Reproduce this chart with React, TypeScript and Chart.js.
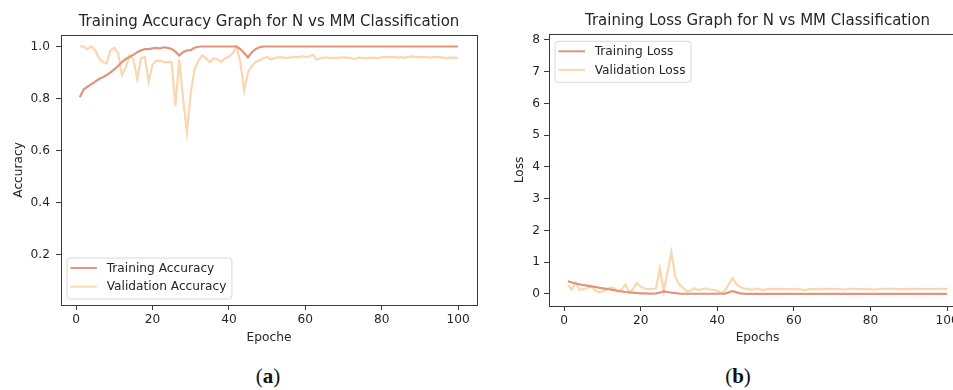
import React, { useEffect, useRef } from 'react';
import { Chart, registerables } from 'chart.js';
Chart.register(...registerables);

// ---------- data ----------
const epochs: number[] = [
  1, 2, 3, 4, 5, 6, 7, 8, 9, 10, 11, 12, 13, 14, 15, 16, 17, 18, 19, 20,
  21, 22, 23, 24, 25, 26, 27, 28, 29, 30, 31, 32, 33, 34, 35, 36, 37, 38, 39, 40,
  41, 42, 43, 44, 45, 46, 47, 48, 49, 50, 51, 52, 53, 54, 55, 56, 57, 58, 59, 60,
  61, 62, 63, 64, 65, 66, 67, 68, 69, 70, 71, 72, 73, 74, 75, 76, 77, 78, 79, 80,
  81, 82, 83, 84, 85, 86, 87, 88, 89, 90, 91, 92, 93, 94, 95, 96, 97, 98, 99, 100,
];

const trainingAccuracy: number[] = [
  0.805, 0.835, 0.845, 0.855, 0.865, 0.875, 0.882, 0.89, 0.9, 0.912,
  0.925, 0.94, 0.952, 0.96, 0.968, 0.978, 0.985, 0.99, 0.99, 0.993,
  0.995, 0.993, 0.997, 0.995, 0.99, 0.98, 0.965, 0.978, 0.985, 0.986,
  0.995, 0.999, 1.0, 1.0, 1.0, 1.0, 1.0, 1.0, 1.0, 1.0,
  1.0, 1.0, 0.99, 0.975, 0.958, 0.978, 0.99, 0.997, 1.0, 1.0,
  1.0, 1.0, 1.0, 1.0, 1.0, 1.0, 1.0, 1.0, 1.0, 1.0,
  1.0, 1.0, 1.0, 1.0, 1.0, 1.0, 1.0, 1.0, 1.0, 1.0,
  1.0, 1.0, 1.0, 1.0, 1.0, 1.0, 1.0, 1.0, 1.0, 1.0,
  1.0, 1.0, 1.0, 1.0, 1.0, 1.0, 1.0, 1.0, 1.0, 1.0,
  1.0, 1.0, 1.0, 1.0, 1.0, 1.0, 1.0, 1.0, 1.0, 1.0,
];

const validationAccuracy: number[] = [
  1.0, 1.0, 0.99, 1.0, 0.985, 0.955, 0.94, 0.935, 0.985, 0.995,
  0.975, 0.89, 0.92, 0.965, 0.95, 0.875, 0.955, 0.96, 0.865, 0.93,
  0.945, 0.945, 0.94, 0.94, 0.94, 0.77, 0.95, 0.8, 0.67, 0.82,
  0.91, 0.945, 0.965, 0.955, 0.94, 0.955, 0.95, 0.94, 0.955, 0.96,
  0.975, 1.0, 0.94, 0.83, 0.9, 0.925, 0.94, 0.945, 0.955, 0.96,
  0.95, 0.955, 0.958, 0.958, 0.955, 0.957, 0.96, 0.958, 0.962, 0.96,
  0.962, 0.968, 0.95, 0.955, 0.957, 0.957, 0.955, 0.956, 0.957, 0.958,
  0.957, 0.955, 0.952, 0.957, 0.956, 0.955, 0.957, 0.956, 0.955, 0.958,
  0.96, 0.959, 0.96, 0.957, 0.959, 0.956, 0.96, 0.962, 0.958, 0.96,
  0.959, 0.958, 0.957, 0.96, 0.959, 0.957, 0.954, 0.958, 0.956, 0.957,
];

const trainingLoss: number[] = [
  0.4, 0.36, 0.33, 0.3, 0.28, 0.26, 0.24, 0.22, 0.2, 0.18,
  0.16, 0.14, 0.12, 0.1, 0.08, 0.06, 0.05, 0.04, 0.03, 0.02,
  0.02, 0.01, 0.01, 0.02, 0.04, 0.08, 0.06, 0.04, 0.03, 0.01,
  0.005, 0.005, 0.005, 0.005, 0.005, 0.005, 0.005, 0.005, 0.005, 0.005,
  0.005, 0.01, 0.05, 0.09, 0.05, 0.02, 0.01, 0.003, 0.003, 0.003,
  0.003, 0.003, 0.003, 0.003, 0.003, 0.003, 0.003, 0.003, 0.003, 0.003,
  0.003, 0.003, 0.003, 0.003, 0.003, 0.003, 0.003, 0.003, 0.003, 0.003,
  0.003, 0.003, 0.003, 0.003, 0.003, 0.003, 0.003, 0.003, 0.003, 0.003,
  0.003, 0.003, 0.003, 0.003, 0.003, 0.003, 0.003, 0.003, 0.003, 0.003,
  0.003, 0.003, 0.003, 0.003, 0.003, 0.003, 0.003, 0.003, 0.003, 0.003,
];

const validationLoss: number[] = [
  0.28, 0.14, 0.35, 0.13, 0.15, 0.18, 0.25, 0.12, 0.05, 0.08,
  0.14, 0.2, 0.19, 0.06, 0.14, 0.3, 0.04, 0.15, 0.35, 0.22,
  0.17, 0.15, 0.16, 0.17, 0.8, 0.07, 0.7, 1.32, 0.55, 0.3,
  0.2, 0.08, 0.1, 0.18, 0.12, 0.15, 0.17, 0.14, 0.13, 0.1,
  0.04, 0.1, 0.3, 0.5, 0.3, 0.22, 0.17, 0.16, 0.13, 0.17,
  0.15, 0.12, 0.15, 0.16, 0.15, 0.15, 0.16, 0.15, 0.15, 0.16,
  0.15, 0.14, 0.12, 0.15, 0.15, 0.16, 0.15, 0.15, 0.16, 0.16,
  0.15, 0.15, 0.14, 0.15, 0.16, 0.16, 0.15, 0.15, 0.16, 0.15,
  0.14, 0.15, 0.16, 0.16, 0.17, 0.16, 0.15, 0.15, 0.16, 0.15,
  0.15, 0.16, 0.16, 0.15, 0.16, 0.15, 0.16, 0.16, 0.16, 0.16,
];

const epochTicks: number[] = [0, 20, 40, 60, 80, 100];
const accuracyTicks: number[] = [0.2, 0.4, 0.6, 0.8, 1.0];
const lossTicks: number[] = [0, 1, 2, 3, 4, 5, 6, 7, 8];

// ---------- styles ----------
const TRAIN_COLOR = 'rgb(222,150,124)';
const VAL_COLOR = 'rgb(252,214,176)';
const FONT = '"DejaVu Sans", sans-serif';
const TEXT = '#262626';
const AXIS = '#3a3a3a';

const framePlugin = {
  id: 'mplFrame',
  afterDraw(chart: any, _args: any, opts: any) {
    const { ctx, chartArea } = chart;
    ctx.save();
    ctx.strokeStyle = AXIS;
    ctx.lineWidth = 1;
    ctx.strokeRect(
      Math.round(chartArea.left) + 0.5,
      Math.round(chartArea.top) + 0.5,
      Math.round(chartArea.right - chartArea.left),
      Math.round(chartArea.bottom - chartArea.top)
    );
    // legend inside the axes
    ctx.font = `12.2px ${FONT}`;
    const sets = chart.data.datasets;
    let tw = 0;
    sets.forEach((d: any) => (tw = Math.max(tw, ctx.measureText(d.label).width)));
    const w = 39.7 + tw + 5.5;
    const h = 41;
    const x = chartArea.left + 6;
    const y = opts.position === 'bottom' ? chartArea.bottom - 6 - h : chartArea.top + 7.5;
    const r = 3;
    ctx.beginPath();
    ctx.moveTo(x + r, y);
    ctx.lineTo(x + w - r, y);
    ctx.quadraticCurveTo(x + w, y, x + w, y + r);
    ctx.lineTo(x + w, y + h - r);
    ctx.quadraticCurveTo(x + w, y + h, x + w - r, y + h);
    ctx.lineTo(x + r, y + h);
    ctx.quadraticCurveTo(x, y + h, x, y + h - r);
    ctx.lineTo(x, y + r);
    ctx.quadraticCurveTo(x, y, x + r, y);
    ctx.closePath();
    ctx.fillStyle = 'rgba(255,255,255,0.8)';
    ctx.fill();
    ctx.strokeStyle = '#d9d9d9';
    ctx.stroke();
    sets.forEach((d: any, i: number) => {
      const ry = y + 10 + i * 18.6;
      ctx.strokeStyle = d.borderColor;
      ctx.lineWidth = 2;
      ctx.beginPath();
      ctx.moveTo(x + 3.5, ry);
      ctx.lineTo(x + 30, ry);
      ctx.stroke();
      ctx.fillStyle = TEXT;
      ctx.textBaseline = 'middle';
      ctx.textAlign = 'left';
      ctx.fillText(d.label, x + 39.7, ry + 0.5);
    });
    ctx.restore();
  },
};

interface Cfg {
  title: string;
  xTitle: string;
  yTitle: string;
  labels: [string, string];
  series: [number[], number[]];
  yTicks: number[];
  yMin: number;
  yMax: number;
  yFmt: (v: number) => string;
  yWidth: number;
  xHeight: number;
  padRight: number;
  titleTop: number;
  yTitlePad: number;
  xTitlePad: number;
  yTickPad: number;
  legend: 'top' | 'bottom';
}

function makeChart(canvas: HTMLCanvasElement, c: Cfg) {
  const mk = (arr: number[]) => epochs.map((e, i) => ({ x: e, y: arr[i] }));
  return new Chart(canvas, {
    type: 'line',
    data: {
      datasets: [
        {
          label: c.labels[0],
          data: mk(c.series[0]),
          borderColor: TRAIN_COLOR,
          borderWidth: 2.2,
          pointRadius: 0,
          tension: 0,
        },
        {
          label: c.labels[1],
          data: mk(c.series[1]),
          borderColor: VAL_COLOR,
          borderWidth: 2.2,
          pointRadius: 0,
          tension: 0,
        },
      ],
    },
    options: {
      animation: false,
      responsive: false,
      devicePixelRatio: 1,
      layout: { padding: { left: 0, right: c.padRight, top: 0, bottom: 0 } },
      plugins: {
        legend: { display: false },
        tooltip: { enabled: false },
        title: {
          display: true,
          text: c.title,
          fullSize: false,
          color: TEXT,
          font: { family: FONT, size: 15, weight: 'normal', lineHeight: 1.2 },
          padding: { top: c.titleTop, bottom: 4 },
        },
        mplFrame: { position: c.legend },
      } as any,
      scales: {
        x: {
          type: 'linear',
          min: -3.95,
          max: 104.95,
          afterBuildTicks: (s: any) => {
            s.ticks = epochTicks.map((v) => ({ value: v }));
          },
          afterFit: (s: any) => {
            s.height = c.xHeight;
          },
          border: { display: false },
          grid: { display: true, drawOnChartArea: false, drawTicks: true, tickLength: 5, color: AXIS },
          ticks: {
            color: TEXT,
            padding: 3,
            maxRotation: 0,
            autoSkip: false,
            font: { family: FONT, size: 12.2 },
            callback: (v: any) => String(v),
          },
          title: {
            display: true,
            text: c.xTitle,
            color: TEXT,
            font: { family: FONT, size: 12.2, lineHeight: 1.2 },
            padding: { top: 0, bottom: c.xTitlePad },
          },
        },
        y: {
          type: 'linear',
          min: c.yMin,
          max: c.yMax,
          afterBuildTicks: (s: any) => {
            s.ticks = c.yTicks.map((v) => ({ value: v }));
          },
          afterFit: (s: any) => {
            s.width = c.yWidth;
          },
          border: { display: false },
          grid: { display: true, drawOnChartArea: false, drawTicks: true, tickLength: 5, color: AXIS },
          ticks: {
            color: TEXT,
            padding: c.yTickPad,
            autoSkip: false,
            font: { family: FONT, size: 12.2 },
            callback: (v: any) => c.yFmt(Number(v)),
          },
          title: {
            display: true,
            text: c.yTitle,
            color: TEXT,
            font: { family: FONT, size: 12.2, lineHeight: 1.2 },
            padding: { top: c.yTitlePad, bottom: 0 },
          },
        },
      },
    } as any,
    plugins: [framePlugin],
  });
}

export default function App() {
  const accRef = useRef<HTMLCanvasElement>(null);
  const lossRef = useRef<HTMLCanvasElement>(null);

  useEffect(() => {
    const a = makeChart(accRef.current!, {
      title: 'Training Accuracy Graph for N vs MM Classification',
      xTitle: 'Epoche',
      yTitle: 'Accuracy',
      labels: ['Training Accuracy', 'Validation Accuracy'],
      series: [trainingAccuracy, validationAccuracy],
      yTicks: accuracyTicks,
      yMin: 0.005,
      yMax: 1.045,
      yFmt: (v) => v.toFixed(1),
      yWidth: 61,
      xHeight: 45,
      padRight: 13,
      titleTop: 12.8,
      yTitlePad: 11.5,
      xTitlePad: 4.8,
      yTickPad: 6,
      legend: 'bottom',
    });
    const b = makeChart(lossRef.current!, {
      title: 'Training Loss Graph for N vs MM Classification',
      xTitle: 'Epochs',
      yTitle: 'Loss',
      labels: ['Training Loss', 'Validation Loss'],
      series: [trainingLoss, validationLoss],
      yTicks: lossTicks,
      yMin: -0.38,
      yMax: 8.19,
      yFmt: (v) => String(Math.round(v)),
      yWidth: 59,
      xHeight: 44,
      padRight: 14,
      titleTop: 11.8,
      yTitlePad: 22.8,
      xTitlePad: 4.8,
      yTickPad: 4,
      legend: 'top',
    });
    return () => {
      a.destroy();
      b.destroy();
    };
  }, []);

  const cap: React.CSSProperties = {
    position: 'absolute',
    top: 362,
    width: 60,
    textAlign: 'center',
    fontFamily: '"Liberation Serif", "DejaVu Serif", serif',
    fontSize: 21,
    color: '#111',
    lineHeight: '28px',
  };

  return (
    <div
      style={{
        position: 'absolute',
        left: 0,
        top: 0,
        width: 953,
        height: 390,
        overflow: 'hidden',
        background: '#fff',
      }}
    >
      <canvas ref={accRef} width={490} height={350} style={{ position: 'absolute', left: 0, top: 0 }} />
      <canvas ref={lossRef} width={490} height={350} style={{ position: 'absolute', left: 490, top: 0 }} />
      <div style={{ ...cap, left: 268 - 30 }}>
        (<b>a</b>)
      </div>
      <div style={{ ...cap, left: 738 - 30 }}>
        (<b>b</b>)
      </div>
    </div>
  );
}
